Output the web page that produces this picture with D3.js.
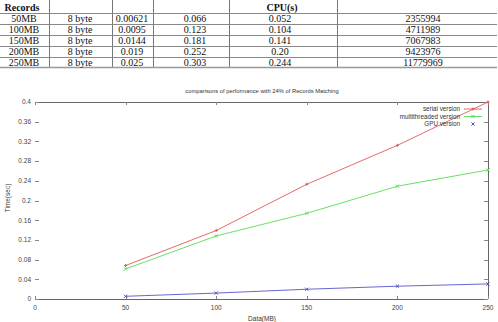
<!DOCTYPE html>
<html><head><meta charset="utf-8">
<script src="https://cdn.jsdelivr.net/npm/d3@7"></script>
<style>html,body{margin:0;padding:0;background:#fff;}svg{display:block;}</style>
</head><body>
<svg id="c" width="498" height="322"></svg>
<script>
// ---- table data ----
const tableHeaders = ["Records", "CPU(s)"];
const tableRecords = ["50MB", "100MB", "150MB", "200MB", "250MB"];
const tableSizes = ["8 byte", "8 byte", "8 byte", "8 byte", "8 byte"];
const tableGpu = ["0.00621", "0.0095", "0.0144", "0.019", "0.025"];
const tableSerial = ["0.066", "0.123", "0.181", "0.252", "0.303"];
const tableMulti = ["0.052", "0.104", "0.141", "0.20", "0.244"];
const tableMatched = ["2355994", "4711989", "7067983", "9423976", "11779969"];

// ---- chart data ----
const dataMB = [50, 100, 150, 200, 250];
const serialVals = [0.068, 0.139, 0.233, 0.312, 0.400];
const multiVals = [0.061, 0.128, 0.174, 0.229, 0.262];
const gpuVals = [0.0055, 0.012, 0.0198, 0.026, 0.0306];
const xTicks = [0, 50, 100, 150, 200, 250];
const yTicks = [0, 0.04, 0.08, 0.12, 0.16, 0.2, 0.24, 0.28, 0.32, 0.36, 0.4];
const seriesNames = ["serial version", "multithreaded version", "GPU version"];
const chartTitle = "comparisons of performance with 24% of Records Matching";

const svg = d3.select("#c");

// ---------- TABLE ----------
const colEdges = [0, 49, 112, 153, 229, 337, 497];
const rowLines = [13, 24, 35, 46, 57, 67];
const tg = svg.append("g").attr("font-family", "'Liberation Serif', 'Times New Roman', serif").attr("font-size", 10).attr("fill", "#111");
colEdges.slice(1, -1).forEach(x => {
  tg.append("line").attr("x1", x + 0.5).attr("x2", x + 0.5).attr("y1", 0).attr("y2", rowLines[rowLines.length - 1])
    .attr("stroke", "#777").attr("stroke-width", 1);
});
rowLines.forEach((y, i) => {
  tg.append("line").attr("x1", 0).attr("x2", 497).attr("y1", y + 0.5).attr("y2", y + 0.5)
    .attr("stroke", i === rowLines.length - 1 ? "#999" : "#888").attr("stroke-width", i === rowLines.length - 1 ? 1.5 : 1);
});
tg.append("text").attr("x", 22).attr("y", 10.5).attr("text-anchor", "middle").attr("font-weight", "bold").text(tableHeaders[0]);
tg.append("text").attr("x", 282).attr("y", 10.5).attr("text-anchor", "middle").attr("font-weight", "bold").text(tableHeaders[1]);
const rowCenters = rowLines.slice(0, -1).map((y, i) => (y + rowLines[i + 1]) / 2);
const cols = [tableRecords, tableSizes, tableGpu, tableSerial, tableMulti, tableMatched];
const colX = [24, 80, 132, 195, 280, 423];
cols.forEach((arr, ci) => {
  arr.forEach((v, ri) => {
    tg.append("text").attr("x", colX[ci]).attr("y", rowCenters[ri] + 3.5).attr("text-anchor", "middle").text(v);
  });
});

// ---------- CHART ----------
const x = d3.scaleLinear().domain([0, 250]).range([35, 488]);
const y = d3.scaleLinear().domain([0, 0.4]).range([299, 102]);
const cg = svg.append("g").attr("font-family", "'Liberation Sans', Arial, sans-serif");
const axisColor = "#666";

cg.append("line").attr("x1", x(0)).attr("x2", x(250)).attr("y1", y(0.4) + 0.5).attr("y2", y(0.4) + 0.5).attr("stroke", axisColor);
cg.append("line").attr("x1", x(0)).attr("x2", x(250)).attr("y1", y(0) + 0.5).attr("y2", y(0) + 0.5).attr("stroke", axisColor);
cg.append("line").attr("x1", x(250) + 0.5).attr("x2", x(250) + 0.5).attr("y1", y(0.4)).attr("y2", y(0)).attr("stroke", axisColor);

yTicks.forEach(t => {
  const yy = Math.round(y(t)) + 0.5;
  cg.append("line").attr("x1", x(0)).attr("x2", x(0) + 4).attr("y1", yy).attr("y2", yy).attr("stroke", "#888");
  cg.append("line").attr("x1", x(250) - 4).attr("x2", x(250)).attr("y1", yy).attr("y2", yy).attr("stroke", "#888");
  cg.append("text").attr("x", 31).attr("y", y(t) + 2.3).attr("text-anchor", "end")
    .attr("font-size", 6.5).attr("fill", "#444").text(d3.format("~g")(t));
});
xTicks.forEach(t => {
  const xx = Math.round(x(t)) + 0.5;
  cg.append("line").attr("x1", xx).attr("x2", xx).attr("y1", y(0)).attr("y2", y(0) - 3).attr("stroke", "#888");
  cg.append("line").attr("x1", xx).attr("x2", xx).attr("y1", y(0.4)).attr("y2", y(0.4) + 3).attr("stroke", "#888");
  cg.append("text").attr("x", x(t)).attr("y", 309.5).attr("text-anchor", "middle")
    .attr("font-size", 6.5).attr("fill", "#444").text(t);
});

cg.append("text").attr("x", 262).attr("y", 92.5).attr("text-anchor", "middle").attr("font-size", 5.8).attr("fill", "#333").text(chartTitle);
cg.append("text").attr("x", 262).attr("y", 320.5).attr("text-anchor", "middle").attr("font-size", 6.5).attr("fill", "#333").text("Data(MB)");
cg.append("text").attr("transform", "translate(9.5,198) rotate(-90)").attr("text-anchor", "middle").attr("font-size", 6.5).attr("fill", "#333").text("Time(sec)");

const colors = ["#e05a5a", "#55dd55", "#5555cc"];
const allVals = [serialVals, multiVals, gpuVals];
const line = d3.line().x(d => x(d[0])).y(d => y(d[1]));
const marker = (si, px, py) => {
  const s = 1.6;
  return si === 0 ? `M${px - s},${py}H${px + s}M${px},${py - s}V${py + s}` : `M${px - s},${py - s}L${px + s},${py + s}M${px - s},${py + s}L${px + s},${py - s}`;
};
allVals.forEach((vals, si) => {
  const pts = dataMB.map((m, i) => [m, vals[i]]);
  cg.append("path").attr("d", line(pts)).attr("fill", "none").attr("stroke", colors[si]).attr("stroke-width", 0.9);
  pts.forEach(p => {
    cg.append("path").attr("d", marker(si, x(p[0]), y(p[1]))).attr("stroke", colors[si]).attr("stroke-width", 1);
  });
});

const legY = [109, 116.5, 124];
seriesNames.forEach((n, i) => {
  cg.append("text").attr("x", 460).attr("y", legY[i] + 2.2).attr("text-anchor", "end").attr("font-size", 6.3).attr("fill", "#333").text(n);
  if (i < 2) {
    cg.append("line").attr("x1", 464).attr("x2", 482).attr("y1", legY[i]).attr("y2", legY[i]).attr("stroke", colors[i]).attr("stroke-width", 0.9);
  }
  cg.append("path").attr("d", marker(i, 473, legY[i])).attr("stroke", colors[i]).attr("stroke-width", 1);
});
</script>
</body></html>
